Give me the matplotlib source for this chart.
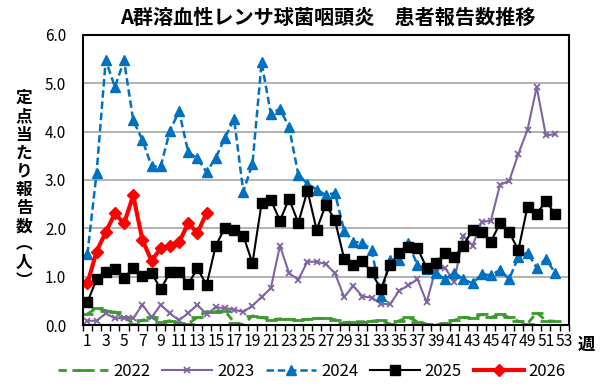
import numpy as np
import matplotlib
matplotlib.use('Agg')
import matplotlib.pyplot as plt

plt.rcParams['font.family'] = ['Noto Sans CJK JP', 'DejaVu Sans']

weeks = np.arange(1, 54)
v2022 = [0.23, 0.35, 0.30, 0.27, 0.17, 0.03, 0.10, 0.16, 0.06, 0.09,
         0.04, 0.03, 0.16, 0.28, 0.28, 0.30, 0.05, 0.01, 0.19, 0.16,
         0.11, 0.13, 0.12, 0.10, 0.12, 0.14, 0.14, 0.11, 0.05, 0.07,
         0.07, 0.08, 0.10, 0.02, 0.09, 0.16, 0.07, 0.02, 0.00, 0.04,
         0.10, 0.16, 0.14, 0.22, 0.16, 0.22, 0.16, 0.08, 0.03, 0.26,
         0.09, 0.08]
v2023 = [0.09, 0.09, 0.24, 0.14, 0.14, 0.14, 0.42, 0.16, 0.42, 0.24,
         0.10, 0.25, 0.42, 0.22, 0.37, 0.35, 0.32, 0.27, 0.40, 0.58,
         0.76, 1.64, 1.07, 0.94, 1.31, 1.31, 1.26, 1.07, 0.58, 0.81,
         0.59, 0.57, 0.44, 0.43, 0.71, 0.82, 0.95, 0.47, 1.17, 1.18,
         0.90, 1.85, 1.64, 2.13, 2.16, 2.90, 2.98, 3.54, 4.04, 4.92,
         3.92, 3.95]
v2024 = [1.46, 3.14, 5.48, 4.92, 5.47, 4.23, 3.83, 3.28, 3.28, 4.02,
         4.42, 3.57, 3.45, 3.16, 3.46, 3.87, 4.26, 2.76, 3.33, 5.43,
         4.37, 4.47, 4.09, 3.11, 2.92, 2.80, 2.69, 2.73, 1.95, 1.72,
         1.70, 1.55, 0.61, 1.34, 1.35, 1.69, 1.24, 1.16, 1.08, 0.95,
         1.08, 0.95, 0.86, 1.05, 1.03, 1.14, 0.95, 1.41, 1.50, 1.18,
         1.37, 1.08]
v2025 = [0.47, 0.95, 1.09, 1.16, 0.97, 1.18, 1.02, 1.08, 0.74, 1.09,
         1.09, 0.85, 1.17, 0.83, 1.64, 2.01, 1.97, 1.85, 1.28, 2.52,
         2.59, 2.16, 2.61, 2.11, 2.78, 1.97, 2.49, 2.17, 1.37, 1.24,
         1.33, 1.09, 0.74, 1.25, 1.48, 1.61, 1.59, 1.18, 1.28, 1.50,
         1.41, 1.64, 1.97, 1.92, 1.72, 2.11, 1.92, 1.55, 2.45, 2.30,
         2.56, 2.30]
v2026 = [0.86, 1.52, 1.92, 2.31, 2.10, 2.68, 1.76, 1.33, 1.59, 1.63,
         1.71, 2.11, 1.90, 2.32]

fig = plt.figure(figsize=(6, 3.87), dpi=100)
ax = fig.add_axes([0.138, 0.160, 0.810, 0.750])

ax.plot(weeks[:len(v2022)], v2022, color='#3a9a2a', lw=2, ls=(0, (3, 2)),
        marker='_', ms=8, mew=2, label='2022')
ax.plot(weeks[:len(v2023)], v2023, color='#8064a2', lw=1.5,
        marker='x', ms=5, mew=1.3, label='2023')
ax.plot(weeks[:len(v2024)], v2024, color='#0070c0', lw=1.8, ls=(0, (3, 1.5)),
        marker='^', ms=6.5, label='2024')
ax.plot(weeks[:len(v2025)], v2025, color='black', lw=1.5,
        marker='s', ms=6.5, label='2025')
ax.plot(weeks[:len(v2026)], v2026, color='#ff0000', lw=3,
        marker='D', ms=6.5, label='2026')

ax.set_xlim(0.5, 53.5)
ax.set_ylim(0, 6)
ax.set_yticks(np.arange(0, 6.1, 1))
ax.set_yticklabels([f'{v:.1f}' for v in np.arange(0, 6.1, 1)], fontsize=11)
ax.yaxis.grid(True, color='#a6a6a6', lw=1.2)
ax.set_axisbelow(True)
ax.tick_params(axis='y', length=0, pad=12)

ax.set_xticks(weeks[::2])
ax.set_xticklabels([str(w) for w in weeks[::2]], fontsize=11.3)
ax.set_xticks(np.arange(0.5, 54, 1), minor=True)
ax.tick_params(axis='x', which='major', length=0, pad=6)
ax.tick_params(axis='x', which='minor', length=4, width=1, direction='out')
for s in ax.spines.values():
    s.set_linewidth(1.5)
    s.set_color('black')

fig.text(0.547, 0.955, 'A群溶血性レンサ球菌咽頭炎　患者報告数推移',
         ha='center', va='center', fontsize=14.5, fontweight='bold')
fig.text(0.977, 0.110, '週', ha='center', va='center',
         fontsize=12.5, fontweight='bold')

ylab = '定点当たり報告数︵人︶'
fig.text(0.040, 0.51, '\n'.join(ylab), ha='center', va='center',
         fontsize=12, fontweight='bold', linespacing=1.02)

fig.legend(loc='center', bbox_to_anchor=(0.52, 0.04), ncol=5, frameon=False,
           fontsize=12, handlelength=3.0, columnspacing=0.7, handletextpad=0.3)

fig.savefig('out.png', dpi=100)
